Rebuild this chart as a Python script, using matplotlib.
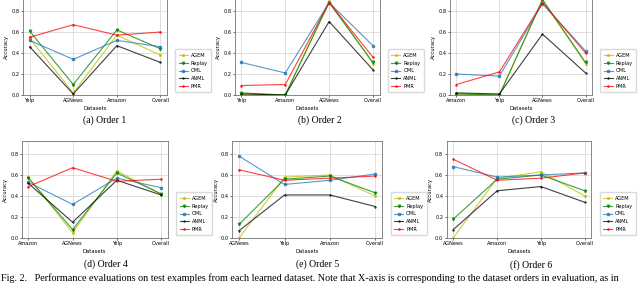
import matplotlib
matplotlib.use('Agg')
import matplotlib.pyplot as plt

methods = ['AGEM', 'Replay', 'OML', 'ANML', 'PMR']

orders = [
    ['Yelp', 'AGNews', 'Amazon', 'Overall'],
    ['Yelp', 'Amazon', 'AGNews', 'Overall'],
    ['Amazon', 'Yelp', 'AGNews', 'Overall'],
    ['Amazon', 'AGNews', 'Yelp', 'Overall'],
    ['AGNews', 'Yelp', 'Amazon', 'Overall'],
    ['AGNews', 'Amazon', 'Yelp', 'Overall'],
]

# accuracy per method, one list per order (same x order as `orders`)
agem = [
    [0.54, 0.02, 0.57, 0.38],
    [0.01, 0.00, 0.90, 0.30],
    [0.01, 0.00, 0.90, 0.30],
    [0.58, 0.05, 0.64, 0.42],
    [0.00, 0.58, 0.60, 0.40],
    [0.00, 0.57, 0.63, 0.40],
]
replay = [
    [0.61, 0.10, 0.62, 0.44],
    [0.02, 0.00, 0.88, 0.31],
    [0.01, 0.00, 0.91, 0.31],
    [0.57, 0.08, 0.62, 0.42],
    [0.13, 0.56, 0.59, 0.43],
    [0.18, 0.56, 0.60, 0.45],
]
oml = [
    [0.52, 0.34, 0.52, 0.46],
    [0.31, 0.21, 0.88, 0.47],
    [0.20, 0.18, 0.87, 0.42],
    [0.53, 0.32, 0.57, 0.48],
    [0.78, 0.51, 0.55, 0.61],
    [0.68, 0.58, 0.60, 0.62],
]
anml = [
    [0.46, 0.01, 0.47, 0.31],
    [0.01, 0.00, 0.70, 0.24],
    [0.02, 0.01, 0.58, 0.21],
    [0.52, 0.15, 0.55, 0.41],
    [0.07, 0.41, 0.41, 0.30],
    [0.08, 0.45, 0.49, 0.34],
]
pmr = [
    [0.55, 0.67, 0.57, 0.60],
    [0.09, 0.10, 0.88, 0.36],
    [0.10, 0.22, 0.88, 0.40],
    [0.49, 0.67, 0.54, 0.56],
    [0.65, 0.55, 0.57, 0.59],
    [0.75, 0.55, 0.57, 0.62],
]
captions = ['(a) Order 1', '(b) Order 2', '(c) Order 3',
            '(d) Order 4', '(e) Order 5', '(f) Order 6']

series = [agem, replay, oml, anml, pmr]
styles = [('y', '*'), ('g', 'v'), ('#1f77b4', 's'), ('k', '+'), ('r', '.')]

# axes boxes in figure fractions
boxes = [
    (0.036, 0.6655, 0.225, 0.340),
    (0.367, 0.6655, 0.226, 0.340),
    (0.703, 0.6655, 0.222, 0.340),
    (0.034, 0.162, 0.228, 0.340),
    (0.363, 0.162, 0.234, 0.340),
    (0.698, 0.162, 0.226, 0.340),
]
cap_pos = [(0.164, 0.577), (0.500, 0.577), (0.833, 0.577),
           (0.166, 0.068), (0.497, 0.068), (0.830, 0.068)]

fig = plt.figure(figsize=(6.4, 2.84), dpi=100)

for i in range(6):
    ax = fig.add_axes(boxes[i])
    x = range(len(orders[i]))
    for name, data, (col, mk) in zip(methods, series, styles):
        ax.plot(x, data[i], color=col, marker=mk, markersize=1.8,
                linewidth=0.8, alpha=0.75, label=name)
    ax.set_ylim(0, 0.92)
    ax.set_yticks([0.0, 0.2, 0.4, 0.6, 0.8])
    ax.set_xticks(list(x))
    ax.set_xticklabels(orders[i])
    ax.tick_params(labelsize=3.6, length=1.5, width=0.4, pad=1)
    ax.set_xlabel('Datasets', fontsize=3.8, labelpad=1.5)
    ax.set_ylabel('Accuracy', fontsize=3.8, labelpad=1.5)
    ax.grid(color='0.85', linewidth=0.6)
    for sp in ax.spines.values():
        sp.set_color('0.45')
        sp.set_linewidth(0.6)
    ax.legend(loc='lower left', bbox_to_anchor=(1.04, 0.0), fontsize=3.6,
              handlelength=1.8, handletextpad=0.6, borderpad=0.7,
              labelspacing=0.55, framealpha=1.0, edgecolor='0.85')
    fig.text(cap_pos[i][0], cap_pos[i][1], captions[i], ha='center',
             va='center', fontsize=7, family='Liberation Serif')

fig.text(0.002, 0.022, 'Fig. 2.   Performance evaluations on test examples '
         'from each learned dataset. Note that X-axis is corresponding to '
         'the dataset orders in evaluation, as in', ha='left', va='center',
         fontsize=7.3, family='Liberation Serif')

fig.savefig('out.png', dpi=100)
